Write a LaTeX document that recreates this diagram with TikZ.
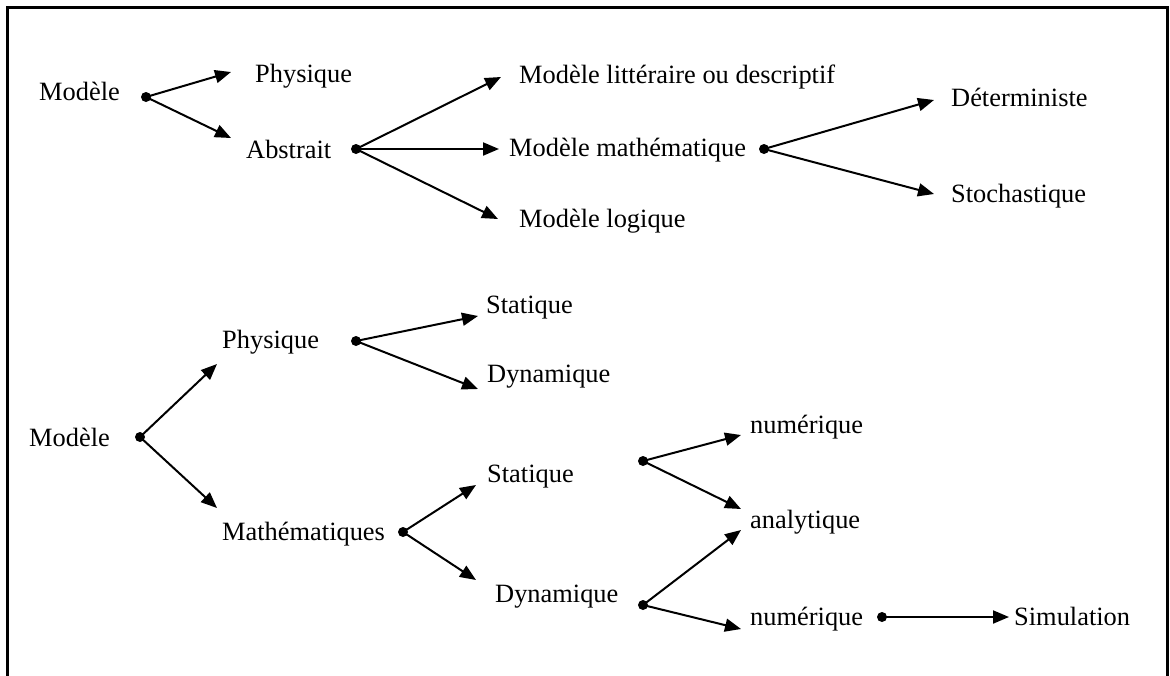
\documentclass[tikz,border=0pt]{standalone}
\usepackage{fontspec}
\setmainfont{Liberation Serif}
\usetikzlibrary{arrows.meta}
\begin{document}
\begin{tikzpicture}[x=1pt,y=-1pt,
  lbl/.style={anchor=base west,inner sep=0pt,font=\fontsize{26.4}{30}\selectfont},
  dotn/.style={circle,fill=black,inner sep=0pt,minimum size=10pt},
  arr/.style={line width=2pt,-{Triangle[length=16pt,width=13pt]}},
  frame/.style={line width=3pt}]
\useasboundingbox (0,0) rectangle (1170,675);
% frame (open at the bottom)
\coordinate (fbl) at (7,676);
\coordinate (ftl) at (7,7);
\coordinate (ftr) at (1167.5,7);
\coordinate (fbr) at (1167.5,676);
\draw[frame] (fbl) -- (ftl) -- (ftr) -- (fbr);

% ---------- top tree ----------
\node[lbl] (m1) at (39,100) {Modèle};
\node[lbl] (phy1) at (255,82) {Physique};
\node[lbl] (abs) at (246,158) {Abstrait};
\node[lbl] (lit) at (519,83) {Modèle littéraire ou descriptif};
\node[lbl] (mat) at (509,156) {Modèle mathématique};
\node[lbl] (log) at (519,227) {Modèle logique};
\node[lbl] (det) at (951,106) {Déterministe};
\node[lbl] (sto) at (951,202) {Stochastique};

\node[dotn] (d1) at (146,97) {};
\node[dotn] (d2) at (356,149) {};
\node[dotn] (d3) at (764,149) {};

\coordinate (t11) at (231,72);
\coordinate (t12) at (231,138);
\coordinate (t21) at (501,77);
\coordinate (t22) at (499,149);
\coordinate (t23) at (498,219);
\coordinate (t31) at (934,100);
\coordinate (t32) at (934,194);

\draw[arr] (d1.center) -- (t11);
\draw[arr] (d1.center) -- (t12);
\draw[arr] (d2.center) -- (t21);
\draw[arr] (d2.center) -- (t22);
\draw[arr] (d2.center) -- (t23);
\draw[arr] (d3.center) -- (t31);
\draw[arr] (d3.center) -- (t32);

% ---------- bottom tree ----------
\node[lbl] (m2) at (29,446) {Modèle};
\node[lbl] (phy2) at (222,348) {Physique};
\node[lbl] (math) at (222,540) {Mathématiques};
\node[lbl] (sta1) at (486,313) {Statique};
\node[lbl] (dyn1) at (487,382) {Dynamique};
\node[lbl] (sta2) at (487,482) {Statique};
\node[lbl] (dyn2) at (495,602) {Dynamique};
\node[lbl] (num1) at (750,433) {numérique};
\node[lbl] (ana) at (750,528) {analytique};
\node[lbl] (num2) at (750,625) {numérique};
\node[lbl] (sim) at (1014,625) {Simulation};

\node[dotn] (e1) at (140,437) {};
\node[dotn] (e2) at (356,341) {};
\node[dotn] (e3) at (403,532) {};
\node[dotn] (e4) at (643,461) {};
\node[dotn] (e5) at (643,605) {};
\node[dotn] (e6) at (882,617) {};

\coordinate (u11) at (217,364);
\coordinate (u12) at (217,508);
\coordinate (u21) at (478,316);
\coordinate (u22) at (478,389);
\coordinate (u31) at (476,485);
\coordinate (u32) at (476,580);
\coordinate (u41) at (741,435);
\coordinate (u42) at (741,509);
\coordinate (u51) at (741,530);
\coordinate (u52) at (741,629);
\coordinate (u61) at (1009,617);

\draw[arr] (e1.center) -- (u11);
\draw[arr] (e1.center) -- (u12);
\draw[arr] (e2.center) -- (u21);
\draw[arr] (e2.center) -- (u22);
\draw[arr] (e3.center) -- (u31);
\draw[arr] (e3.center) -- (u32);
\draw[arr] (e4.center) -- (u41);
\draw[arr] (e4.center) -- (u42);
\draw[arr] (e5.center) -- (u51);
\draw[arr] (e5.center) -- (u52);
\draw[arr] (e6.center) -- (u61);
\end{tikzpicture}
\end{document}
